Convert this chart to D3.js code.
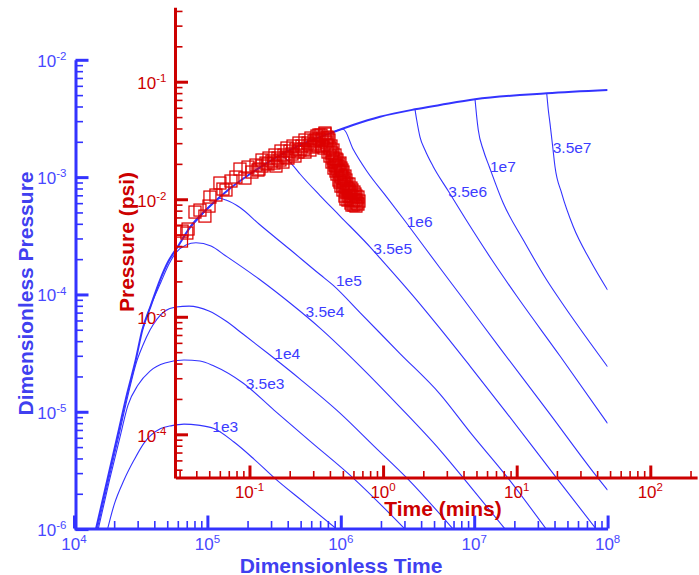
<!DOCTYPE html>
<html><head><meta charset="utf-8">
<script src="https://cdn.jsdelivr.net/npm/d3@7"></script>
<style>
html,body{margin:0;padding:0;background:#fff;}
svg{display:block;}
text{font-family:Arial,"Liberation Sans",Helvetica,sans-serif;}
</style></head><body>
<svg id="chart" width="699" height="575"></svg>
<script>
// ---------- Type curves: [dimensionless time, dimensionless pressure] ----------
const envelope = [[1.455e4,9.8e-7],[1.777e4,2.617e-6],[2.111e4,6.12e-6],[2.509e4,1.443e-5],[2.901e4,2.759e-5],[3.251e4,4.972e-5],[3.778e4,8.12e-5],[4.413e4,1.327e-4],[5.065e4,1.889e-4],[5.99e4,2.55e-4],[7.317e4,3.661e-4],[1.033e5,5.594e-4],[1.459e5,7.918e-4],[2.086e5,1.063e-3],[3.212e5,1.455e-3],[4.946e5,1.878e-3],[8.299e5,2.362e-3],[1.234e6,2.781e-3],[1.968e6,3.272e-3],[3.6e6,3.784e-3],[5.54e6,4.118e-3],[1.014e7,4.607e-3],[3.496e7,5.182e-3],[1e8,5.529e-3]];
const curve1e3 = [[1.777e4,9.8e-7],[1.995e4,1.602e-6],[2.371e4,2.617e-6],[2.817e4,3.874e-6],[3.348e4,5.41e-6],[4.467e4,7.19e-6],[5.428e4,7.62e-6],[6.677e4,7.85e-6],[8.502e4,7.70e-6],[1.121e5,7.19e-6],[1.582e5,5.52e-6],[2.235e5,3.95e-6],[3.157e5,2.748e-6],[5.39e5,1.666e-6],[9.53e5,9.8e-7]];
const curve3_5e3 = [[1.513e4,9.8e-7],[1.845e4,2.617e-6],[2.212e4,6.085e-6],[2.54e4,1.141e-5],[3.018e4,1.689e-5],[3.713e4,2.223e-5],[4.811e4,2.601e-5],[6.677e4,2.759e-5],[8.8e4,2.705e-5],[1.121e5,2.453e-5],[1.849e5,1.757e-5],[3.157e5,1.034e-5],[5.877e5,5.626e-6],[1.234e6,2.737e-6],[3.082e6,9.8e-7]];
const curve1e4 = [[1.487e4,9.8e-7],[1.814e4,2.617e-6],[2.156e4,6.085e-6],[2.562e4,1.443e-5],[2.941e4,2.653e-5],[3.29e4,3.703e-5],[3.713e4,4.972e-5],[4.19e4,6.17e-5],[4.811e4,7.22e-5],[5.815e4,7.81e-5],[7.28e4,7.96e-5],[1.028e5,7.22e-5],[1.378e5,5.93e-5],[1.849e5,4.597e-5],[2.947e5,3.044e-5],[4.946e5,1.9e-5],[9.86e5,9.75e-6],[1.805e6,5.0e-6],[3.136e6,2.721e-6],[7.06e6,9.8e-7]];
const curve3_5e4 = [[3.251e4,4.972e-5],[3.778e4,8.12e-5],[4.488e4,1.276e-4],[5.153e4,1.816e-4],[5.815e4,2.276e-4],[6.91e4,2.637e-4],[8.213e4,2.759e-4],[1.064e5,2.586e-4],[1.378e5,2.125e-4],[2.437e5,1.353e-4],[4.162e5,8.45e-5],[6.985e5,5.17e-5],[1.393e6,2.453e-5],[2.778e6,1.096e-5],[5.54e6,4.717e-6],[9.3e6,2.326e-6],[1.731e7,9.8e-7]];
const curve1e5 = [[7.317e4,3.661e-4],[8.8e4,4.569e-4],[1.083e5,5.898e-4],[1.243e5,6.571e-4],[1.378e5,6.38e-4],[1.755e5,5.506e-4],[2.437e5,3.983e-4],[4.162e5,2.414e-4],[6.985e5,1.478e-4],[8.74e5,1.202e-4],[1.393e6,7.01e-5],[2.778e6,3.134e-5],[5.54e6,1.415e-5],[9.3e6,6.71e-6],[1.792e7,2.721e-6],[3.513e7,9.8e-7]];
const curve3_5e5 = [[2.086e5,1.063e-3],[2.847e5,1.332e-3],[3.501e5,1.513e-3],[4.285e5,1.293e-3],[4.946e5,1.063e-3],[6.985e5,6.966e-4],[9.86e5,4.66e-4],[1.713e6,2.438e-4],[1.968e6,2.043e-4],[3.707e6,8.96e-5],[5.54e6,5.14e-5],[9.3e6,2.453e-5],[1.731e7,9.94e-6],[4.153e7,2.721e-6],[8.33e7,9.8e-7]];
const curve1e6 = [[8.299e5,2.362e-3],[1.044e6,2.556e-3],[1.241e6,1.719e-3],[1.564e6,1.127e-3],[2.209e6,6.764e-4],[3.029e6,4.224e-4],[5.54e6,1.679e-4],[8.29e6,9.14e-5],[1.561e7,3.49e-5],[3.7e7,9.56e-6],[8.47e7,2.721e-6],[1e8,2.15e-6]];
const curve3_5e6 = [[3.6e6,3.784e-3],[3.707e6,3.068e-3],[3.925e6,2.197e-3],[4.278e6,1.702e-3],[4.936e6,1.227e-3],[6.395e6,7.61e-4],[9.3e6,3.83e-4],[1.391e7,1.889e-4],[2.083e7,9.69e-5],[4.398e7,2.985e-5],[1e8,7.96e-6]];
const curve1e7 = [[1.014e7,4.607e-3],[1.044e7,3.272e-3],[1.073e7,2.52e-3],[1.17e7,1.702e-3],[1.298e7,1.227e-3],[1.652e7,5.978e-4],[2.334e7,2.909e-4],[3.496e7,1.327e-4],[4.398e7,8.96e-5],[1e8,2.418e-5]];
const curve3_5e7 = [[3.496e7,5.182e-3],[3.594e7,3.733e-3],[3.70e7,2.875e-3],[3.877e7,1.816e-3],[4.034e7,1.227e-3],[4.529e7,7.275e-4],[5.533e7,3.777e-4],[7.38e7,1.965e-4],[1e8,1.09e-4]];

// ---------- Curve labels ----------
const curveLabelText = ["1e3","3.5e3","1e4","3.5e4","1e5","3.5e5","1e6","3.5e6","1e7","3.5e7"];
const curveLabelTime = [1.088e5,1.937e5,3.173e5,5.438e5,9.206e5,1.752e6,3.119e6,6.395e6,1.313e7,3.877e7];
const curveLabelPressure = [6.75e-6,1.561e-5,2.797e-5,6.42e-5,1.191e-4,2.21e-4,3.733e-4,6.725e-4,1.099e-3,1.595e-3];

// ---------- Field data (Time, mins ; Pressure, psi) ----------
const fieldTime = [0.0310,0.0313,0.0340,0.0347,0.0391,0.0426,0.0464,0.0506,0.0498,0.0561,0.0601,0.0633,0.0667,0.0727,0.0792,0.0849,0.0925,0.0975,0.1044,0.1119,0.1178,0.1241,0.1329,0.140,0.1474,0.1552,0.1634,0.1721,0.1812,0.1909,0.2010,0.2117,0.2229,0.2347,0.2472,0.2603,0.2742,0.2884,0.304,0.320,0.3313,0.3429,0.3549,0.3674,0.3802,0.1579,0.1781,0.1941,0.2191,0.2387,0.2836,0.2987,0.2603,0.3313,0.3674,0.387,
0.1241,0.1376,0.1691,0.2080,0.2559,0.3092,0.3256,0.3488,0.3145,0.2836,0.2307,0.1876,0.1526,0.1158,
0.3937,0.3738,0.3488,0.4074,0.4005,0.4217,0.387,0.4365,0.4005,0.4217,0.4518,0.4145,0.4675,0.4365,0.429,0.4839,0.4596,0.5008,0.4518,0.4839,0.5183,0.4675,0.5273,0.5095,0.5553,0.4839,0.5365,0.5008,0.5848,0.565,0.6158,0.5183,0.595,0.6485,0.5458,0.6266,0.6598,0.5748,0.6375,0.6053,0.565,0.4441,0.4756,0.4923,0.5183,0.5458,0.5748,0.6053,0.5848,0.6266,
0.361,0.3802,0.4145,0.4441,0.429,0.4596,0.4756,0.4923,0.4441,0.5095,0.4756,0.5365,0.5008,0.5553,0.5748,0.5273,0.6053,0.5553,0.6266,0.5848,0.6485,0.5273];
const fieldPressure = [0.00441,0.00536,0.00516,0.00558,0.00778,0.00809,0.00719,0.01044,0.00875,0.01086,0.01374,0.01221,0.01198,0.01429,0.01545,0.01807,0.01515,0.01879,0.01704,0.01954,0.01807,0.02157,0.02032,0.02242,0.02114,0.02378,0.02242,0.02572,0.02378,0.02728,0.02572,0.02837,0.02675,0.03008,0.02837,0.0319,0.03008,0.03318,0.0313,0.03451,0.03253,0.03519,0.03318,0.03589,0.03383,0.01917,0.02073,0.02242,0.02332,0.02623,0.02623,0.02782,0.02522,0.03519,0.0366,0.03318,
0.01917,0.01993,0.02157,0.02425,0.02675,0.0295,0.02837,0.0319,0.0319,0.02893,0.02522,0.02286,0.02032,0.01772,
0.0319,0.03068,0.02837,0.02837,0.02728,0.02623,0.02522,0.02378,0.02332,0.02242,0.02157,0.02073,0.01993,0.01954,0.01843,0.01843,0.01772,0.01704,0.01639,0.01575,0.01575,0.01457,0.01457,0.01401,0.01347,0.01295,0.01245,0.01198,0.01198,0.01152,0.01107,0.01065,0.01044,0.01044,0.00984,0.00984,0.00965,0.00928,0.00928,0.00893,0.01004,0.01917,0.01704,0.01515,0.01295,0.01152,0.01065,0.00984,0.00893,0.00875,
0.02728,0.02893,0.02473,0.02198,0.02114,0.01917,0.02032,0.01772,0.01738,0.01515,0.01401,0.01347,0.01295,0.01198,0.01245,0.01152,0.01152,0.01065,0.01065,0.00965,0.0091,0.01004];

// ---------- Axis ticks ----------
const blueTimeTicks = [1e4,1e5,1e6,1e7,1e8];
const bluePressureTicks = [1e-6,1e-5,1e-4,1e-3,1e-2];
const redTimeTicks = [0.1,1,10,100];
const redPressureTicks = [1e-4,1e-3,1e-2,1e-1];
const redTimeExtent = [0.0279,224];
const redPressureExtent = [4.25e-5,0.43];

// ---------- Drawing ----------
const BLUE = "#3333ff", BLUE_TXT = "#4040f0", RED = "#cc0000", RED_MARK = "#dd0000";
const svg = d3.select("#chart");
const xB = d3.scaleLog().domain([1e4,1e8]).range([74,607.6]);
const yB = d3.scaleLog().domain([1e-6,1e-2]).range([529.1,59.8]);
const xR = d3.scaleLog().domain(redTimeExtent).range([175.4,697.1]);
const yR = d3.scaleLog().domain(redPressureExtent).range([478,7.25]);

function minorTicks(lo, hi){
  const out=[];
  for(let e=Math.floor(Math.log10(lo)); e<=Math.ceil(Math.log10(hi)); e++){
    for(let m=2;m<=9;m++){const v=m*Math.pow(10,e); if(v>lo*1.0001 && v<hi*0.9999) out.push(v);}
  }
  return out;
}

svg.append("defs").append("clipPath").attr("id","clipB").append("rect")
  .attr("x",74).attr("y",59.8).attr("width",533.6).attr("height",469.3);

// blue type curves
const line = d3.line().x(d=>xB(d[0])).y(d=>yB(d[1])).curve(d3.curveMonotoneX);
const gCurves = svg.append("g").attr("clip-path","url(#clipB)");
[curve1e3,curve3_5e3,curve1e4,curve3_5e4,curve1e5,curve3_5e5,curve1e6,curve3_5e6,curve1e7,curve3_5e7].forEach(c=>{
  gCurves.append("path").attr("d",line(c)).attr("fill","none").attr("stroke",BLUE).attr("stroke-width",1.1);
});
gCurves.append("path").attr("d",line(envelope)).attr("fill","none").attr("stroke",BLUE).attr("stroke-width",2);

function styleAxis(g, color, w, keepDomain){
  g.selectAll(".tick text").remove();
  if(keepDomain) g.select(".domain").attr("stroke",color).attr("stroke-width",3);
  else g.select(".domain").remove();
  g.selectAll(".tick line").attr("stroke",color).attr("stroke-width",w);
}
function expLabel(g, x, y, v, anchor, color){
  const e = Math.round(Math.log10(v));
  const t = g.append("text").attr("x",x).attr("y",y).attr("text-anchor",anchor).attr("fill",color).attr("font-size","17px");
  t.append("tspan").text("10");
  t.append("tspan").attr("dy",-6.8).attr("font-size","11.5px").text(String(e));
}

// blue axes
const gBY = svg.append("g").attr("transform","translate(75.5,0)");
gBY.call(d3.axisLeft(yB).tickValues(minorTicks(1e-6,1e-2)).tickSize(-7.5).tickSizeOuter(0));
styleAxis(gBY, BLUE, 1.6, false);
const gBY2 = svg.append("g").attr("transform","translate(75.5,0)");
gBY2.call(d3.axisLeft(yB).tickValues(bluePressureTicks).tickSize(-13).tickSizeOuter(0));
styleAxis(gBY2, BLUE, 3, true);
const gBX = svg.append("g").attr("transform","translate(0,528.5)");
gBX.call(d3.axisBottom(xB).tickValues(minorTicks(1e4,1e8)).tickSize(-7.5).tickSizeOuter(0));
styleAxis(gBX, BLUE, 1.6, false);
const gBX2 = svg.append("g").attr("transform","translate(0,528.5)");
gBX2.call(d3.axisBottom(xB).tickValues(blueTimeTicks).tickSize(-13).tickSizeOuter(0));
styleAxis(gBX2, BLUE, 3, true);

const gLab = svg.append("g");
bluePressureTicks.forEach(v=>expLabel(gLab, 66.5, yB(v)+7, v, "end", "#4848ff"));
blueTimeTicks.forEach(v=>expLabel(gLab, xB(v), 549.5, v, "middle", "#4848ff"));

// red axes
const gRY = svg.append("g").attr("transform","translate(175,0)");
gRY.call(d3.axisLeft(yR).tickValues(minorTicks(redPressureExtent[0],redPressureExtent[1])).tickSize(-7.5).tickSizeOuter(0));
styleAxis(gRY, RED, 1.6, false);
const gRY2 = svg.append("g").attr("transform","translate(175,0)");
gRY2.call(d3.axisLeft(yR).tickValues(redPressureTicks).tickSize(-13).tickSizeOuter(0));
styleAxis(gRY2, RED, 3, true);
const gRX = svg.append("g").attr("transform","translate(0,477.5)");
gRX.call(d3.axisBottom(xR).tickValues(minorTicks(redTimeExtent[0],redTimeExtent[1])).tickSize(-6.5).tickSizeOuter(0));
styleAxis(gRX, RED, 1.6, false);
const gRX2 = svg.append("g").attr("transform","translate(0,477.5)");
gRX2.call(d3.axisBottom(xR).tickValues(redTimeTicks).tickSize(-12).tickSizeOuter(0));
styleAxis(gRX2, RED, 3, true);

redPressureTicks.forEach(v=>expLabel(gLab, 166.5, yR(v)+7.5, v, "end", RED));
redTimeTicks.forEach(v=>expLabel(gLab, xR(v), 497.5, v, "middle", RED));

// field data squares
const fieldData = fieldTime.map((t,i)=>[t, fieldPressure[i]]);
svg.append("g").selectAll("rect").data(fieldData).join("rect")
  .attr("x",d=>xR(d[0])-6).attr("y",d=>yR(d[1])-6)
  .attr("width",12).attr("height",12)
  .attr("fill","none").attr("stroke",RED_MARK).attr("stroke-width",1.25);

// curve labels
svg.append("g").selectAll("text").data(curveLabelText).join("text")
  .attr("x",(d,i)=>xB(curveLabelTime[i])).attr("y",(d,i)=>yB(curveLabelPressure[i]))
  .attr("fill","#3c3cff").attr("font-size","15.5px").text(d=>d);

// titles
svg.append("text").attr("x",341).attr("y",572.5).attr("text-anchor","middle")
  .attr("fill",BLUE_TXT).attr("font-size","21px").attr("font-weight","bold").text("Dimensionless Time");
svg.append("text").attr("transform","translate(32.5,293.5) rotate(-90)").attr("text-anchor","middle")
  .attr("fill",BLUE_TXT).attr("font-size","21px").attr("font-weight","bold").text("Dimensionless Pressure");
svg.append("text").attr("transform","translate(134,242) rotate(-90)").attr("text-anchor","middle")
  .attr("fill",RED).attr("font-size","21px").attr("font-weight","bold").text("Pressure (psi)");
svg.append("text").attr("x",443).attr("y",516).attr("text-anchor","middle")
  .attr("fill",RED).attr("font-size","21px").attr("font-weight","bold").text("Time (mins)");
</script>
</body></html>
